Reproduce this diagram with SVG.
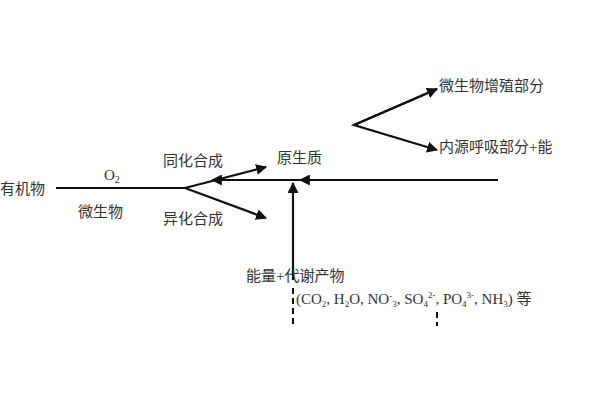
<svg xmlns="http://www.w3.org/2000/svg" width="600" height="400" viewBox="0 0 600 400">
<style>
text{font-family:"Liberation Serif","Noto Sans CJK SC",serif;font-size:15px;fill:#333}
.ln{stroke:#111;stroke-width:2.2;fill:none}
.d{stroke:#111;stroke-width:2;stroke-dasharray:6,4}
</style>
<defs><marker id="a" viewBox="0 0 10 10" refX="9" refY="5" markerWidth="5" markerHeight="5" orient="auto"><path d="M0,0L10,5L0,10z" fill="#111"/></marker></defs>
<rect width="600" height="400" fill="#fff"/>
<g id="connectors">
<path class="ln" d="M56,188H185"/>
<path class="ln" d="M185,188L266,167" marker-end="url(#a)"/>
<path class="ln" d="M185,188L266,218" marker-end="url(#a)"/>
<path class="ln" d="M498,180H300" marker-end="url(#a)"/>
<path class="ln" d="M300,180H212" marker-end="url(#a)"/>
<path class="ln" d="M293,280V183" marker-end="url(#a)"/>
<path class="ln" d="M437,89L354,125L437,150" marker-end="url(#a)"/>
<path class="ln" d="M354,125L437,89" marker-end="url(#a)"/>
<path class="d" d="M293,288V326"/>
<path class="d" d="M437,312V326"/>
</g>
<g id="n1"><text x="0" y="194">有机物</text></g>
<g id="n2"><text x="104" y="180" font-family="Liberation Sans" font-size="14">O<tspan font-size="10" dy="3">2</tspan></text></g>
<g id="n3"><text x="78" y="217">微生物</text></g>
<g id="n4"><text x="163" y="166">同化合成</text></g>
<g id="n5"><text x="163" y="224">异化合成</text></g>
<g id="n6"><text x="277" y="163">原生质</text></g>
<g id="n7"><text x="439" y="91">微生物增殖部分</text></g>
<g id="n8"><text x="439" y="152">内源呼吸部分+能</text></g>
<g id="n9"><text x="246" y="281">能量+代谢产物</text></g>
<g id="n10"><text x="296" y="304" font-size="14">(CO<tspan font-size="9" dy="3">2</tspan><tspan dy="-3">, H</tspan><tspan font-size="9" dy="3">2</tspan><tspan dy="-3">O, NO</tspan><tspan font-size="9" dy="-5">-</tspan><tspan font-size="9" dy="8">3</tspan><tspan dy="-3">, SO</tspan><tspan font-size="9" dy="3">4</tspan><tspan font-size="9" dy="-9">2-</tspan><tspan dy="6">, PO</tspan><tspan font-size="9" dy="3">4</tspan><tspan font-size="9" dy="-9">3-</tspan><tspan dy="6">, NH</tspan><tspan font-size="9" dy="3">3</tspan><tspan dy="-3">) 等</tspan></text></g>
</svg>
